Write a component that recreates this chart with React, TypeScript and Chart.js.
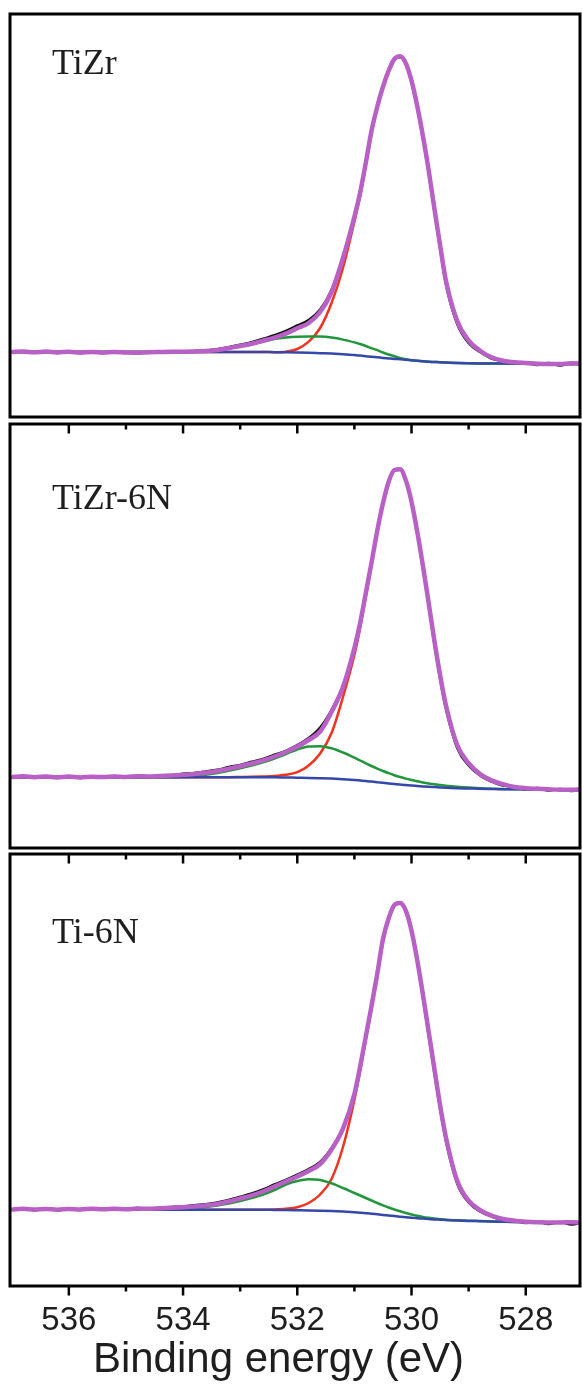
import React, { useEffect, useRef } from "react";
import { Chart, registerables } from "chart.js";

Chart.register(...registerables);

// Binding energy grid (eV)
const ENERGY = [
  537.0, 536.8, 536.6, 536.4, 536.2, 536.0, 535.8, 535.6, 535.4, 535.2,
  535.0, 534.8, 534.6, 534.4, 534.2, 534.0, 533.8, 533.6, 533.4, 533.2,
  533.0, 532.8, 532.6, 532.4, 532.2, 532.0, 531.8, 531.6, 531.4, 531.2,
  531.0, 530.9, 530.8, 530.7, 530.6, 530.5, 530.4, 530.3, 530.2, 530.1,
  530.0, 529.9, 529.8, 529.7, 529.6, 529.5, 529.4, 529.2, 529.0, 528.8,
  528.6, 528.4, 528.2, 528.0, 527.8, 527.6, 527.4, 527.2, 527.0,
];

const MAJOR_TICKS = [536, 534, 532, 530, 528];
const MINOR_TICKS = [535, 533, 531, 529];
const TICK_LABELS = ["536", "534", "532", "530", "528"];
const X_MIN = 527.05;
const X_MAX = 537.03;
const X_TITLE = "Binding energy (eV)";

// ---------- TiZr ----------
const TIZR_RAW = [
  64.5, 65.8, 64.2, 65.7, 64.1, 65.5, 64.0, 65.2, 63.9, 65.5,
  64.2, 63.8, 65.2, 64.5, 65.6, 64.8, 66.0, 66.4, 67.7, 69.8,
  72.2, 74.8, 78.2, 81.7, 86.0, 91.5, 97.0, 107.5, 127.0, 159.5,
  200.0, 224.0, 254.0, 286.0, 310.0, 330.0, 346.0, 357.5, 360.0, 354.0,
  336.0, 310.0, 279.5, 245.0, 206.0, 169.0, 133.5, 93.0, 74.0, 65.0,
  58.5, 56.0, 53.5, 54.5, 52.0, 54.0, 51.5, 54.0, 52.0,
];
const TIZR_ENV = [
  65.0, 65.5, 64.7, 65.4, 64.6, 65.2, 64.5, 65.0, 64.4, 65.1,
  64.6, 64.3, 64.8, 65.0, 65.2, 65.3, 65.6, 66.0, 67.0, 69.0,
  71.0, 73.3, 76.3, 79.3, 83.3, 88.7, 94.0, 105.0, 125.0, 159.0,
  200.3, 224.3, 254.3, 286.3, 310.3, 330.3, 346.3, 358.0, 360.7, 353.7,
  336.3, 311.0, 281.0, 247.0, 208.7, 172.0, 137.0, 96.0, 76.3, 66.3,
  59.7, 56.3, 54.7, 54.0, 53.3, 53.0, 53.0, 53.7, 53.5,
];
const TIZR_MAIN = [
  65.0, 65.0, 65.0, 65.0, 65.0, 65.0, 65.0, 65.0, 65.0, 65.0,
  65.0, 65.0, 65.0, 65.0, 65.0, 65.0, 65.0, 65.0, 65.0, 65.0,
  65.0, 65.0, 65.0, 64.8, 65.3, 68.0, 75.3, 89.0, 114.0, 149.0,
  195.3, 221.0, 252.0, 284.0, 309.0, 329.0, 345.5, 357.5, 360.0, 353.5,
  336.0, 310.5, 280.5, 246.5, 208.2, 171.5, 136.5, 95.5, 75.8, 65.8,
  59.2, 56.0, 54.4, 53.8, 53.4, 53.2, 53.1, 53.0, 53.0,
];
const TIZR_SECOND = [
  65.0, 65.0, 65.0, 65.0, 65.0, 65.0, 65.0, 65.0, 65.0, 65.0,
  65.0, 65.0, 65.0, 65.0, 65.0, 65.0, 65.3, 65.8, 66.8, 68.5,
  70.5, 72.8, 75.5, 78.0, 79.4, 80.2, 80.5, 80.4, 79.4, 77.4,
  74.6, 73.0, 71.0, 68.8, 66.8, 64.5, 62.5, 60.7, 59.0, 57.7,
  56.8, 56.2, 55.7, 55.3, 55.0, 54.7, 54.5, 54.1, 53.8, 53.6,
  53.5, 53.4, 53.3, 53.2, 53.1, 53.0, 53.0, 53.0, 53.0,
];
const TIZR_BG = [
  65.0, 65.0, 65.0, 65.0, 65.0, 65.0, 65.0, 65.0, 65.0, 65.0,
  65.0, 65.0, 65.0, 65.0, 65.0, 65.0, 65.0, 65.0, 65.0, 65.0,
  65.0, 65.0, 65.0, 64.8, 64.7, 64.5, 64.2, 63.8, 63.4, 62.8,
  62.0, 61.4, 60.8, 60.2, 59.7, 59.1, 58.6, 58.1, 57.7, 57.2,
  56.7, 56.2, 55.7, 55.3, 55.0, 54.7, 54.5, 54.1, 53.8, 53.6,
  53.5, 53.4, 53.3, 53.2, 53.1, 53.0, 53.0, 53.0, 53.0,
];

// ---------- TiZr-6N ----------
const TIZR6N_RAW = [
  70.5, 72.0, 70.2, 71.8, 70.1, 71.7, 70.0, 71.6, 70.4, 72.0,
  70.5, 72.2, 71.1, 72.8, 72.2, 74.2, 75.0, 76.5, 78.2, 81.0,
  83.0, 86.2, 89.0, 93.2, 97.2, 103.0, 110.0, 120.5, 138.0, 162.0,
  199.5, 225.0, 255.0, 285.5, 317.0, 344.5, 366.5, 378.5, 379.0, 368.0,
  345.5, 315.0, 280.0, 243.0, 204.5, 170.0, 140.0, 100.0, 82.5, 72.5,
  66.5, 62.5, 61.8, 58.5, 60.0, 57.5, 59.0, 57.0, 59.0,
];
const TIZR6N_ENV = [
  71.0, 71.7, 70.8, 71.5, 70.7, 71.4, 70.6, 71.2, 71.0, 71.6,
  71.1, 71.8, 71.5, 72.1, 72.5, 73.2, 74.0, 75.2, 77.0, 79.2,
  81.7, 84.5, 87.7, 91.5, 96.0, 101.5, 108.0, 116.5, 136.0, 161.0,
  200.0, 225.0, 255.0, 285.3, 317.2, 344.7, 366.3, 378.0, 378.7, 367.7,
  346.3, 316.3, 282.1, 245.3, 207.3, 173.0, 143.3, 103.0, 84.8, 73.9,
  67.6, 63.8, 61.0, 59.8, 59.2, 58.7, 58.3, 58.2, 58.5,
];
const TIZR6N_MAIN = [
  70.8, 70.8, 70.8, 70.8, 70.8, 70.8, 70.8, 70.8, 70.8, 70.8,
  70.8, 70.8, 70.8, 70.8, 70.8, 70.8, 70.8, 70.8, 70.8, 70.8,
  71.0, 71.2, 71.5, 72.0, 73.2, 75.8, 82.5, 94.5, 115.0, 151.0,
  193.0, 220.0, 252.0, 283.5, 316.0, 344.0, 365.7, 377.5, 378.2, 367.4,
  346.0, 316.0, 281.8, 245.0, 207.0, 172.7, 143.0, 102.7, 84.5, 73.6,
  67.3, 63.5, 60.8, 59.7, 59.1, 58.6, 58.3, 58.2, 58.2,
];
const TIZR6N_SECOND = [
  70.8, 70.8, 70.8, 70.8, 70.8, 70.8, 70.8, 70.8, 70.8, 70.8,
  70.8, 70.8, 70.8, 70.8, 70.8, 71.2, 72.0, 73.2, 75.0, 77.2,
  79.7, 82.5, 85.7, 89.5, 94.0, 98.5, 101.5, 101.8, 99.7, 95.5,
  90.3, 87.5, 84.7, 82.0, 79.4, 77.0, 74.8, 72.8, 71.0, 69.4,
  68.0, 66.7, 65.6, 64.6, 63.7, 63.0, 62.3, 61.2, 60.4, 59.8,
  59.3, 59.0, 58.7, 58.6, 58.5, 58.4, 58.3, 58.2, 58.2,
];
const TIZR6N_BG = [
  70.8, 70.8, 70.8, 70.8, 70.8, 70.8, 70.8, 70.8, 70.8, 70.8,
  70.8, 70.8, 70.8, 70.8, 70.8, 70.8, 70.8, 70.8, 70.8, 70.8,
  70.8, 70.8, 70.8, 70.7, 70.5, 70.3, 70.1, 69.8, 69.4, 68.8,
  68.0, 67.5, 67.0, 66.4, 65.8, 65.2, 64.6, 64.0, 63.4, 62.9,
  62.4, 62.0, 61.6, 61.2, 60.9, 60.6, 60.3, 59.8, 59.5, 59.2,
  59.0, 58.8, 58.7, 58.6, 58.5, 58.4, 58.3, 58.2, 58.2,
];

// ---------- Ti-6N ----------
const TI6N_RAW = [
  76.0, 77.7, 75.8, 77.5, 75.7, 77.4, 76.0, 77.8, 76.2, 77.7,
  76.3, 78.0, 77.0, 78.4, 79.0, 79.6, 80.8, 81.7, 83.5, 86.0,
  89.2, 92.5, 96.5, 101.5, 106.2, 111.4, 117.0, 124.0, 138.0, 158.0,
  192.0, 219.5, 250.0, 280.0, 312.0, 347.0, 368.0, 381.5, 383.5, 376.0,
  354.5, 324.0, 288.5, 251.0, 213.5, 177.5, 146.0, 102.5, 83.5, 74.5,
  69.5, 66.0, 65.5, 63.0, 64.5, 62.0, 64.0, 61.5, 63.5,
];
const TI6N_ENV = [
  76.5, 77.2, 76.4, 77.1, 76.3, 77.0, 76.5, 77.3, 76.7, 77.2,
  76.8, 77.4, 77.2, 77.8, 78.2, 78.8, 79.5, 80.5, 82.0, 84.5,
  87.5, 90.7, 94.5, 99.5, 104.5, 109.5, 115.0, 122.0, 136.5, 157.3,
  192.0, 219.3, 249.7, 280.0, 312.0, 346.7, 367.7, 381.0, 383.0, 375.3,
  355.3, 326.0, 291.3, 254.4, 217.3, 181.0, 149.3, 105.3, 85.3, 75.8,
  70.3, 67.0, 65.3, 64.3, 63.8, 63.6, 63.5, 63.8, 63.4,
];
const TI6N_MAIN = [
  76.2, 76.2, 76.2, 76.2, 76.2, 76.2, 76.2, 76.2, 76.2, 76.2,
  76.2, 76.2, 76.2, 76.2, 76.2, 76.2, 76.2, 76.2, 76.2, 76.2,
  76.2, 76.2, 76.2, 76.5, 77.2, 78.7, 83.0, 91.5, 107.0, 139.0,
  186.0, 215.0, 247.0, 278.0, 310.5, 345.5, 367.0, 380.5, 382.5, 375.0,
  355.0, 325.7, 291.0, 254.1, 217.0, 180.7, 149.0, 105.0, 85.0, 75.5,
  70.0, 66.7, 65.0, 64.1, 63.9, 63.8, 63.7, 63.6, 63.5,
];
const TI6N_SECOND = [
  76.2, 76.2, 76.2, 76.2, 76.2, 76.2, 76.2, 76.2, 76.2, 76.2,
  76.2, 76.2, 76.2, 76.2, 76.2, 77.2, 78.0, 79.0, 80.5, 82.5,
  85.0, 88.0, 91.5, 96.0, 101.5, 105.0, 106.7, 106.0, 102.7, 98.0,
  93.0, 90.5, 88.0, 85.5, 83.0, 80.7, 78.5, 76.5, 74.7, 73.0,
  71.5, 70.2, 69.1, 68.2, 67.4, 66.8, 66.3, 65.7, 65.3, 64.9,
  64.6, 64.3, 64.1, 64.0, 63.9, 63.8, 63.7, 63.6, 63.5,
];
const TI6N_BG = [
  76.2, 76.2, 76.2, 76.2, 76.2, 76.2, 76.2, 76.2, 76.2, 76.2,
  76.2, 76.2, 76.2, 76.2, 76.2, 76.2, 76.2, 76.2, 76.2, 76.2,
  76.2, 76.2, 76.2, 76.1, 76.0, 75.8, 75.6, 75.3, 74.9, 74.4,
  73.7, 73.3, 72.8, 72.3, 71.7, 71.1, 70.5, 69.9, 69.3, 68.8,
  68.3, 67.8, 67.4, 67.0, 66.6, 66.3, 66.0, 65.5, 65.1, 64.8,
  64.5, 64.3, 64.1, 64.0, 63.9, 63.8, 63.7, 63.6, 63.5,
];

const SANS = "'Liberation Sans', Arial, sans-serif";
const SERIF = "'Liberation Serif', 'Times New Roman', serif";
const PURPLE = "#b860c6";
const RED = "#f0321e";
const GREEN = "#23963c";
const BLUE = "#3547a8";
const BLACK = "#111111";
const TEXT = "#1e1e1e";

const toPts = (vals: number[]) => ENERGY.map((e, i) => ({ x: e, y: vals[i] }));

const framePlugin = {
  id: "panelFrame",
  afterDraw(chart: any, _args: any, opts: any) {
    const { ctx, chartArea } = chart;
    const x = chart.scales.x;
    const { left, right, top, bottom } = chartArea;
    ctx.save();
    ctx.strokeStyle = "#000";
    ctx.lineWidth = 3;
    ctx.strokeRect(left, top, right - left, bottom - top);
    ctx.lineWidth = 2.5;
    const row = (y0: number) => {
      const draw = (v: number, len: number) => {
        const px = x.getPixelForValue(v);
        ctx.beginPath();
        ctx.moveTo(px, y0);
        ctx.lineTo(px, y0 + len);
        ctx.stroke();
      };
      MAJOR_TICKS.forEach((v) => draw(v, 9.5));
      MINOR_TICKS.forEach((v) => draw(v, 5.5));
    };
    if (opts.topTicks) row(top);
    ctx.fillStyle = TEXT;
    ctx.font = `36px ${SERIF}`;
    ctx.textAlign = "left";
    ctx.textBaseline = "alphabetic";
    ctx.fillText(opts.label, left + 42, top + opts.labelOffset);
    if (opts.bottomAxis) {
      row(bottom);
      ctx.font = `33px ${SANS}`;
      ctx.textAlign = "center";
      MAJOR_TICKS.forEach((v, i) => {
        ctx.fillText(TICK_LABELS[i], x.getPixelForValue(v), bottom + 44);
      });
      ctx.font = `42px ${SANS}`;
      ctx.fillText(X_TITLE, 278.5, bottom + 86);
    }
    ctx.restore();
  },
};

type PanelProps = {
  top: number;
  height: number;
  padTop: number;
  padBottom: number;
  yMax: number;
  label: string;
  labelOffset: number;
  topTicks: boolean;
  bottomAxis: boolean;
  raw: number[];
  env: number[];
  main: number[];
  second: number[];
  bg: number[];
};

function Panel(p: PanelProps) {
  const ref = useRef<HTMLCanvasElement | null>(null);
  useEffect(() => {
    if (!ref.current) return;
    const chart = new Chart(ref.current, {
      type: "line",
      data: {
        datasets: [
          { label: "Envelope", data: toPts(p.env), borderColor: PURPLE, borderWidth: 4.5, order: 0 },
          { label: "Background", data: toPts(p.bg), borderColor: BLUE, borderWidth: 2.5, order: 1 },
          { label: "Peak 2", data: toPts(p.second), borderColor: GREEN, borderWidth: 2.5, order: 2 },
          { label: "Peak 1", data: toPts(p.main), borderColor: RED, borderWidth: 2.5, order: 3 },
          { label: "Raw", data: toPts(p.raw), borderColor: BLACK, borderWidth: 2.5, order: 4 },
        ],
      },
      options: {
        animation: false,
        responsive: false,
        devicePixelRatio: 1,
        layout: { padding: { left: 10, right: 2, top: p.padTop, bottom: p.padBottom } },
        elements: {
          point: { radius: 0 },
          line: { cubicInterpolationMode: "monotone", fill: false },
        },
        plugins: {
          legend: { display: false },
          tooltip: { enabled: false },
          panelFrame: {
            label: p.label,
            labelOffset: p.labelOffset,
            topTicks: p.topTicks,
            bottomAxis: p.bottomAxis,
          },
        } as any,
        scales: {
          x: { type: "linear", display: false, min: X_MIN, max: X_MAX, reverse: true },
          y: { type: "linear", display: false, min: 0, max: p.yMax },
        },
      },
      plugins: [framePlugin],
    });
    return () => chart.destroy();
  }, []);
  return (
    <canvas
      ref={ref}
      width={582}
      height={p.height}
      style={{ position: "absolute", left: 0, top: p.top, width: 582, height: p.height }}
    />
  );
}

export default function App() {
  return (
    <div style={{ position: "absolute", left: 0, top: 0, width: 582, height: 1388, background: "#fff" }}>
      <Panel
        top={0} height={420} padTop={14} padBottom={3} yMax={403}
        label="TiZr" labelOffset={59.5} topTicks={false} bottomAxis={false}
        raw={TIZR_RAW} env={TIZR_ENV} main={TIZR_MAIN} second={TIZR_SECOND} bg={TIZR_BG}
      />
      <Panel
        top={420} height={431} padTop={4} padBottom={3} yMax={424}
        label="TiZr-6N" labelOffset={85} topTicks={true} bottomAxis={false}
        raw={TIZR6N_RAW} env={TIZR6N_ENV} main={TIZR6N_MAIN} second={TIZR6N_SECOND} bg={TIZR6N_BG}
      />
      <Panel
        top={851} height={537} padTop={3} padBottom={102} yMax={432}
        label="Ti-6N" labelOffset={88.5} topTicks={true} bottomAxis={true}
        raw={TI6N_RAW} env={TI6N_ENV} main={TI6N_MAIN} second={TI6N_SECOND} bg={TI6N_BG}
      />
    </div>
  );
}
